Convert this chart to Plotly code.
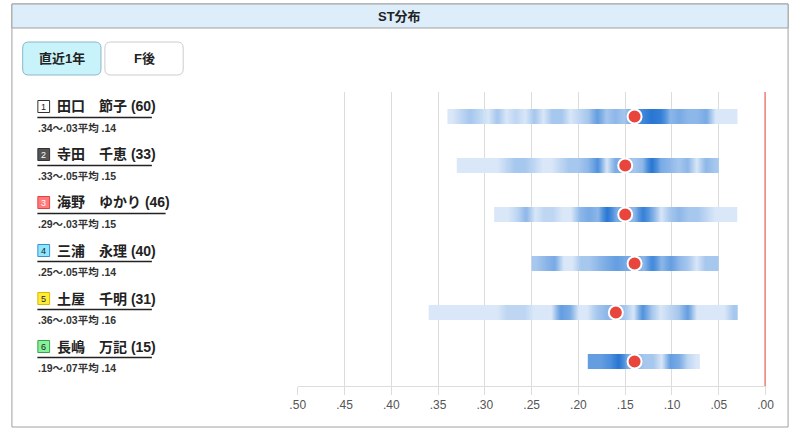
import numpy as np
import plotly.graph_objects as go

# ---------------- data ----------------
racers = ["田口　節子", "寺田　千恵", "海野　ゆかり", "三浦　永理", "土屋　千明", "長嶋　万記"]
starts = [60, 33, 46, 40, 31, 15]
st_max = [0.34, 0.33, 0.29, 0.25, 0.36, 0.19]
st_min = [0.03, 0.05, 0.03, 0.05, 0.03, 0.07]
st_avg = [0.14, 0.15, 0.15, 0.14, 0.16, 0.14]

# density (relative intensity) per 0.01 ST step, from st_max down to st_min
dens1 = [0.5, 1, 1.5, 1, 0.5, 1.5, 0.5, 1, 0.5, 1.5, 0.5, 1.5, 1.5, 0.5, 1, 1.5,
         3, 1.5, 2, 1.5, 3, 4, 5, 4.5, 2, 2.5, 2, 2, 2.5, 0.5, 0.5, 0.5]
dens2 = [0.5, 0.5, 0.5, 0.5, 0.5, 1, 1.5, 1.5, 1, 0.5, 0.5, 1, 1.5, 1.5, 2,
         3.5, 0.5, 2.5, 2, 1.5, 2, 5, 2.5, 2, 1.5, 2, 0.5, 2, 1.5]
dens3 = [0.5, 0.5, 1, 2, 0.5, 1, 1, 0.5, 0.5, 2, 2.5, 2, 5, 2.5, 2, 2, 4.5,
         2.5, 0.5, 1.5, 2, 1.5, 1.5, 1, 0.5, 0.5, 0.5]
dens4 = [1.5, 2, 2.5, 0.5, 0.5, 1.5, 1.5, 2, 2.5, 3, 2.5, 2.5, 2, 4, 2, 3, 2,
         1.5, 0.5, 1.5, 1.5]
dens5 = [0.5, 0.5, 0.5, 0.5, 0.5, 0.5, 0.5, 0.5, 1, 1, 1, 0.5, 0.5, 0.5, 3,
         2.5, 0.5, 0.5, 1.5, 2, 2, 1.5, 0.5, 3.5, 1.5, 0.5, 1, 1.5, 3, 0.5,
         0.5, 0.5, 0.5, 1.5]
dens6 = [3, 3, 3.5, 5, 2.5, 2, 1.5, 1.5, 0.5, 3, 2.5, 1, 0.5]
densities = [dens1, dens2, dens3, dens4, dens5, dens6]

tick_vals = [0.5, 0.45, 0.4, 0.35, 0.3, 0.25, 0.2, 0.15, 0.1, 0.05, 0.0]
tick_text = [".50", ".45", ".40", ".35", ".30", ".25", ".20", ".15", ".10", ".05", ".00"]

lane_fill = ["#ffffff", "#555555", "#ff7b7b", "#8fe6ff", "#ffec3a", "#86f09a"]
lane_line = ["#333333", "#333333", "#e34040", "#3a8fd0", "#d6b800", "#3aa24e"]
lane_text = ["#222222", "#ffffff", "#ffffff", "#222222", "#222222", "#222222"]
underline_end = [147, 147, 161, 147, 147, 147]

# ---------------- layout helpers ----------------
W, H = 801, 435
def px(x):
    return x / W
def py(y):
    return 1 - y / H

FONT = "Liberation Sans, Noto Sans CJK JP, sans-serif"
BAR_HALF = 0.153
colorscale = [[0, "#d9e7f8"], [0.12, "#bcd5f2"], [0.35, "#8ab5e8"],
              [0.65, "#5293de"], [1, "#2877d2"]]

fig = go.Figure()

for i, d in enumerate(densities):
    row = i + 1
    edges = np.linspace(st_max[i], st_min[i], len(d) + 1)
    fig.add_trace(go.Heatmap(
        x=edges, y=[row - BAR_HALF, row + BAR_HALF], z=[d],
        zmin=0.5, zmax=5, colorscale=colorscale, showscale=False,
        zsmooth="best", hoverinfo="skip"))

fig.add_trace(go.Scatter(
    x=st_avg, y=list(range(1, len(st_avg) + 1)), mode="markers",
    marker=dict(size=14, color="#e8453c", line=dict(color="white", width=2)),
    hoverinfo="skip", showlegend=False))

shapes = []
annotations = []

# outer frame + header
shapes.append(dict(type="rect", xref="paper", yref="paper", x0=px(4), x1=px(797),
                   y0=py(427), y1=py(4), line=dict(color="#a0a0a0", width=1),
                   fillcolor="rgba(0,0,0,0)", layer="below"))
shapes.append(dict(type="rect", xref="paper", yref="paper", x0=px(4), x1=px(797),
                   y0=py(28), y1=py(4), line=dict(color="#a0a0a0", width=1),
                   fillcolor="#ddeefa", layer="below"))
annotations.append(dict(xref="paper", yref="paper", x=px(400), y=py(16), text="<b>ST分布</b>",
                        showarrow=False, font=dict(family=FONT, size=13, color="#222"),
                        xanchor="center", yanchor="middle"))

# buttons
def rrect(x0, y0, x1, y1, r):
    X0, X1 = px(x0), px(x1)
    Y0, Y1 = py(y1), py(y0)
    rx, ry = r / W, r / H
    return (f"M{X0+rx},{Y1} L{X1-rx},{Y1} Q{X1},{Y1} {X1},{Y1-ry} L{X1},{Y0+ry} "
            f"Q{X1},{Y0} {X1-rx},{Y0} L{X0+rx},{Y0} Q{X0},{Y0} {X0},{Y0+ry} "
            f"L{X0},{Y1-ry} Q{X0},{Y1} {X0+rx},{Y1} Z")

shapes.append(dict(type="path", xref="paper", yref="paper", path=rrect(15, 42, 95, 75, 6),
                   fillcolor="#c8f3fa", line=dict(color="#8ab8c8", width=1), layer="below"))
shapes.append(dict(type="path", xref="paper", yref="paper", path=rrect(99, 42, 179, 75, 6),
                   fillcolor="#ffffff", line=dict(color="#cccccc", width=1), layer="below"))
annotations.append(dict(xref="paper", yref="paper", x=px(55), y=py(58.5), text="<b>直近1年</b>",
                        showarrow=False, font=dict(family=FONT, size=13, color="#222"),
                        xanchor="center", yanchor="middle"))
annotations.append(dict(xref="paper", yref="paper", x=px(139), y=py(58.5), text="<b>F後</b>",
                        showarrow=False, font=dict(family=FONT, size=13, color="#222"),
                        xanchor="center", yanchor="middle"))

# racer labels
for i in range(len(racers)):
    yc = 106.5 + i * 48
    shapes.append(dict(type="rect", xref="paper", yref="paper", x0=px(30.5), x1=px(42.5),
                       y0=py(yc + 6), y1=py(yc - 6), fillcolor=lane_fill[i],
                       line=dict(color=lane_line[i], width=1)))
    annotations.append(dict(xref="paper", yref="paper", x=px(36.5), y=py(yc + 0.5),
                            text=str(i + 1), showarrow=False,
                            font=dict(family=FONT, size=9, color=lane_text[i]),
                            xanchor="center", yanchor="middle"))
    annotations.append(dict(xref="paper", yref="paper", x=px(48), y=py(yc),
                            text=f"<b>{racers[i]} ({starts[i]})</b>", showarrow=False,
                            font=dict(family=FONT, size=14, color="#222"),
                            xanchor="left", yanchor="middle"))
    shapes.append(dict(type="line", xref="paper", yref="paper", x0=px(30), x1=px(underline_end[i]),
                       y0=py(yc + 11), y1=py(yc + 11), line=dict(color="#222", width=1.5)))
    sub = f"<b>.{int(round(st_max[i]*100)):02d}〜.{int(round(st_min[i]*100)):02d}平均 .{int(round(st_avg[i]*100)):02d}</b>"
    annotations.append(dict(xref="paper", yref="paper", x=px(29), y=py(yc + 21.5),
                            text=sub, showarrow=False,
                            font=dict(family=FONT, size=10.5, color="#333"),
                            xanchor="left", yanchor="middle"))

# red zero line
shapes.append(dict(type="line", xref="x", yref="y domain", x0=0, x1=0, y0=0, y1=1,
                   line=dict(color="#e53a30", width=2)))

fig.update_layout(
    width=W, height=H, autosize=False, margin=dict(l=0, r=0, t=0, b=0),
    paper_bgcolor="white", plot_bgcolor="white",
    showlegend=False, shapes=shapes, annotations=annotations,
    xaxis=dict(domain=[px(296), px(774)], range=[0.5, 0.0], tickvals=tick_vals,
               ticktext=tick_text, showgrid=True, gridcolor="#dcdcdc", gridwidth=1,
               zeroline=False, showline=True, linecolor="#dcdcdc", ticks="outside",
               ticklen=8, tickcolor="#dcdcdc",
               tickfont=dict(family=FONT, size=12, color="#555"), fixedrange=True),
    yaxis=dict(domain=[py(386), py(92)], range=[6.5, 0.5], showticklabels=False,
               showgrid=False, zeroline=False, fixedrange=True),
)

fig.write_html(
    "out.html", config={"displayModeBar": False, "responsive": False},
    post_script=("var s=document.createElement('style');"
                 "s.textContent='html,body{margin:0!important;padding:0!important;overflow:hidden!important;}';"
                 "document.head.appendChild(s);"
                 "var gd=document.getElementById('{plot_id}');"
                 "gd.style.width='801px';gd.style.height='435px';"
                 "Plotly.relayout(gd,{width:801,height:435,autosize:false});"
                 "window.scrollTo(0,0);"))
